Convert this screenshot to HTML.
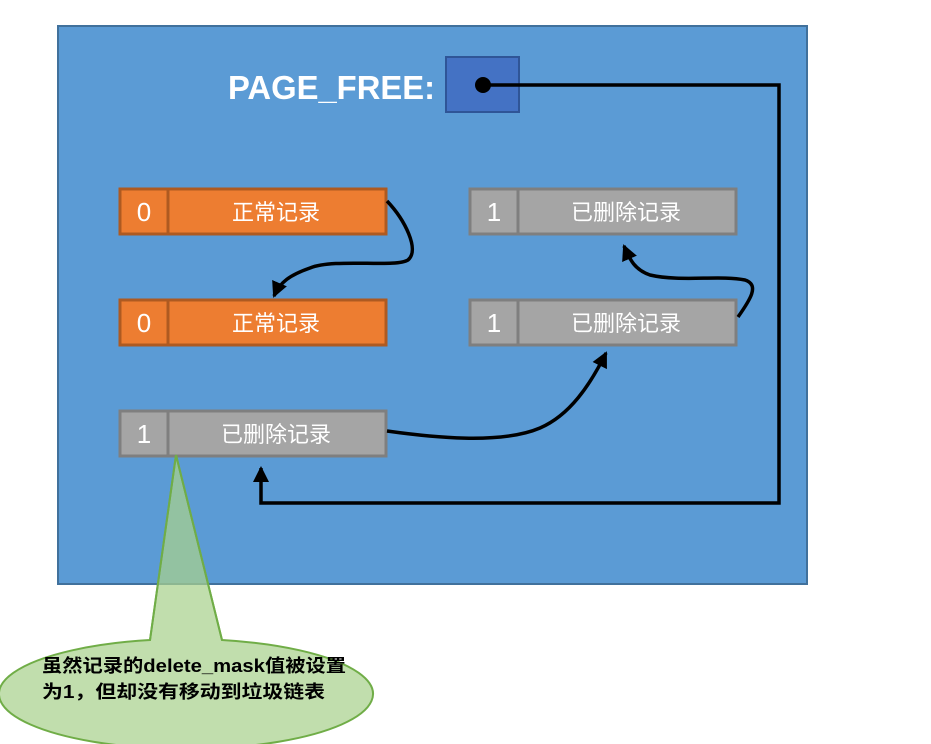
<!DOCTYPE html>
<html><head><meta charset="utf-8"><style>
html,body{margin:0;padding:0;background:#fff;width:931px;height:744px;overflow:hidden}
text{font-family:"Liberation Sans","Noto Sans CJK SC",sans-serif}
</style></head><body>
<svg width="931" height="744" viewBox="0 0 931 744" xmlns="http://www.w3.org/2000/svg">
<defs>
<marker id="ar" markerWidth="10" markerHeight="10" refX="8" refY="5" orient="auto" markerUnits="userSpaceOnUse" viewBox="0 0 10 10">
<path d="M0,0 L10,5 L0,10 z" fill="#000"/>
</marker>
<marker id="ab" markerWidth="16" markerHeight="16" refX="14" refY="8" orient="auto" markerUnits="userSpaceOnUse" viewBox="0 0 16 16">
<path d="M0,0 L16,8 L0,16 z" fill="#000"/>
</marker>
</defs>
<rect x="58" y="26" width="749" height="558" fill="#5b9bd5" stroke="#41719c" stroke-width="2"/>
<text x="228" y="99" font-size="33" fill="#fff" font-family="Liberation Mono, monospace" font-weight="bold" textLength="207" lengthAdjust="spacingAndGlyphs">PAGE_FREE:</text>
<rect x="446" y="57" width="73" height="55" fill="#4472c4" stroke="#2f5597" stroke-width="2"/>
<circle cx="483" cy="85" r="8" fill="#000"/>
<!-- records -->
<g stroke-width="3">
<rect x="120" y="189" width="266" height="45" fill="#ed7d31" stroke="#ae5a21"/>
<line x1="168" y1="189" x2="168" y2="234" stroke="#ae5a21"/>
<rect x="120" y="300" width="266" height="45" fill="#ed7d31" stroke="#ae5a21"/>
<line x1="168" y1="300" x2="168" y2="345" stroke="#ae5a21"/>
<rect x="120" y="411" width="266" height="45" fill="#a5a5a5" stroke="#7f7f7f"/>
<line x1="168" y1="411" x2="168" y2="456" stroke="#7f7f7f"/>
<rect x="470" y="189" width="266" height="45" fill="#a5a5a5" stroke="#7f7f7f"/>
<line x1="518" y1="189" x2="518" y2="234" stroke="#7f7f7f"/>
<rect x="470" y="300" width="266" height="45" fill="#a5a5a5" stroke="#7f7f7f"/>
<line x1="518" y1="300" x2="518" y2="345" stroke="#7f7f7f"/>
</g>
<g fill="#fff" font-size="26" text-anchor="middle">
<text x="144" y="221">0</text><text x="144" y="332">0</text><text x="144" y="443">1</text>
<text x="494" y="221">1</text><text x="494" y="332">1</text>
</g>
<g fill="#fff" font-size="22" text-anchor="middle">
<text x="276" y="220">正常记录</text>
<text x="276" y="331">正常记录</text>
<text x="276" y="442">已删除记录</text>
<text x="626" y="220">已删除记录</text>
<text x="626" y="331">已删除记录</text>
</g>
<!-- connectors -->
<g fill="none" stroke="#000" stroke-width="3.5">
<path d="M483,85 H779 V503 H261 V468" marker-end="url(#ab)"/>
<path d="M387,201 C405,220 420,250 408,260 C395,268 335,258 310,268 C290,275 280,282 274,296" marker-end="url(#ab)"/>
<path d="M738,317 C750,300 760,285 745,280 C720,275 680,282 650,275 C635,270 630,260 624,246" marker-end="url(#ab)"/>
<path d="M387,431 C430,437 500,445 540,428 C570,415 590,385 606,353" marker-end="url(#ab)"/>
</g>
<!-- callout -->
<g fill="#a9d18e" fill-opacity="0.72" stroke="#70ad47" stroke-width="2">
<path d="M176,455 L222,640 A187,55 0 1 1 150,640 Z"/>
</g>
<path d="M176,455 L222,640 M176,455 L150,640" stroke="#70ad47" stroke-width="2" fill="none"/>
<g fill="#000" font-size="18" font-family="Liberation Mono, WenQuanYi Zen Hei, monospace" font-weight="bold">
<text x="42" y="672" textLength="304" lengthAdjust="spacingAndGlyphs">虽然记录的delete_mask值被设置</text>
<text x="42" y="698" textLength="283" lengthAdjust="spacingAndGlyphs">为1，但却没有移动到垃圾链表</text>
</g>
</svg>
</body></html>
